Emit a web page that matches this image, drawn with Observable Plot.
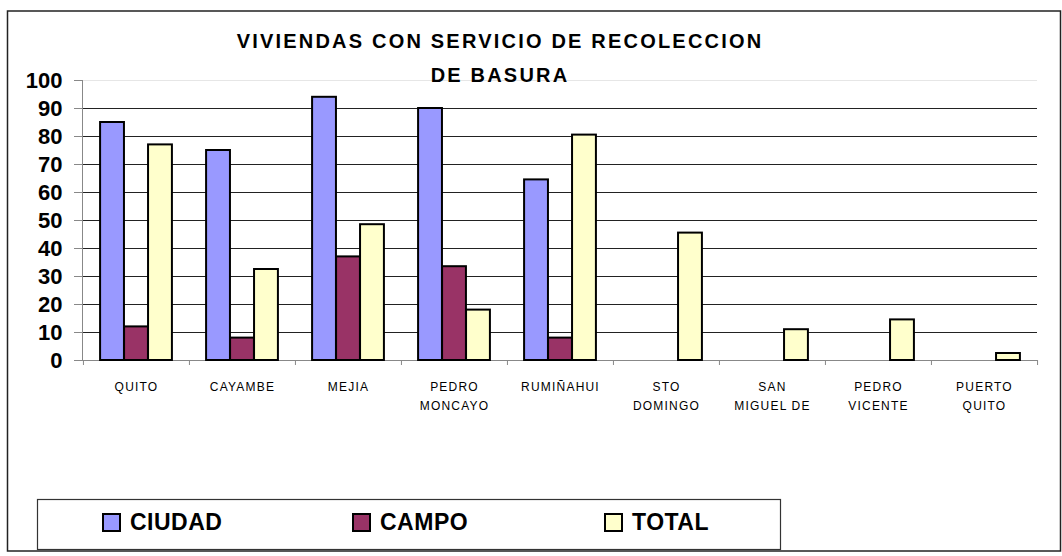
<!DOCTYPE html>
<html><head><meta charset="utf-8">
<script src="https://cdn.jsdelivr.net/npm/d3@7"></script>
<script src="https://cdn.jsdelivr.net/npm/@observablehq/plot@0.6"></script>
<style>
html,body{margin:0;padding:0;background:#fff;}
#chart{width:1062px;height:556px;}
g[aria-label="x-axis tick label"] text{letter-spacing:1.2px;}
</style></head><body><div id="chart"></div>
<script>
const categories = ["QUITO","CAYAMBE","MEJIA","PEDRO MONCAYO","RUMIÑAHUI","STO DOMINGO","SAN MIGUEL DE","PEDRO VICENTE","PUERTO QUITO"];
const tickLabels = ["QUITO","CAYAMBE","MEJIA","PEDRO\nMONCAYO","RUMIÑAHUI","STO\nDOMINGO","SAN\nMIGUEL DE","PEDRO\nVICENTE","PUERTO\nQUITO"];
const ciudad = [85, 75, 94, 90, 64.5, null, null, null, null];
const campo  = [12, 8, 37, 33.5, 8, null, null, null, null];
const total  = [77, 32.5, 48.5, 18, 80.5, 45.5, 11, 14.5, 2.5];
const seriesNames = ["CIUDAD","CAMPO","TOTAL"];
const seriesColors = ["#9999FF","#993366","#FFFFCC"];
const yTicks = [0,10,20,30,40,50,60,70,80,90,100];
const titleLines = ["VIVIENDAS CON SERVICIO DE RECOLECCION","DE BASURA"];

const W = 1062, H = 556, ml = 82, mr = 25, mt = 80, mb = 196;
const bw = (W - ml - mr) / categories.length;
const barW = bw * 0.226;
const off = (bw - 3 * barW) / 2;

const seriesValues = [ciudad, campo, total];
const rows = [];
seriesValues.forEach((vals, s) => vals.forEach((v, i) => {
  if (v != null) rows.push({cat: categories[i], series: seriesNames[s], value: v});
}));

const bars = seriesNames.map((name, s) => Plot.barY(rows.filter(d => d.series === name), {
  x: "cat", y: "value", fill: seriesColors[s], stroke: "#000", strokeWidth: 2,
  insetLeft: off + s * barW, insetRight: bw - off - (s + 1) * barW
}));

const svg = Plot.plot({
  width: W, height: H,
  marginLeft: ml, marginRight: mr, marginTop: mt, marginBottom: mb,
  style: {fontFamily: "'Liberation Sans', Arial, sans-serif", background: "white", color: "#000"},
  x: {domain: categories, padding: 0, label: null},
  y: {domain: [0, 100], label: null},
  marks: [
    Plot.ruleY(yTicks.filter(t => t > 0 && t < 100), {stroke: "#222", strokeWidth: 1}),
    Plot.ruleY([100], {stroke: "#e6e6e6"}),
    Plot.ruleY([0], {stroke: "#888"}),
    Plot.frame({anchor: "left", stroke: "#888"}),
    Plot.ruleX(categories, {x: d => d, y1: 0, y2: 0, insetBottom: -5, dx: -bw / 2, stroke: "#888"}),
    Plot.ruleX([categories[categories.length - 1]], {x: d => d, y1: 0, y2: 0, insetBottom: -5, dx: bw / 2, stroke: "#888"}),
    ...bars,
    Plot.axisY({ticks: yTicks, tickSize: 8, tickPadding: 12, fontSize: 22, fontWeight: "bold", stroke: "#888", fill: "#000", label: null, tickFormat: d => String(d)}),
    Plot.axisX({tickSize: 0, tickPadding: 17, fontSize: 12, lineHeight: 1.58, fill: "#000", label: null,
      tickFormat: d => tickLabels[categories.indexOf(d)]})
  ]
});

const s = d3.select(svg);
// outer border
s.append("rect").attr("x", 7.5).attr("y", 11).attr("width", 1053).attr("height", 540)
  .attr("fill", "none").attr("stroke", "#222").attr("stroke-width", 1.5);
// title
const t = s.append("text").attr("text-anchor", "middle")
  .attr("font-size", 20).attr("font-weight", "bold").style("letter-spacing", "2.2px")
  .attr("font-family", "'Liberation Sans', Arial, sans-serif").attr("fill", "#000");
t.append("tspan").attr("x", 500).attr("y", 48).text(titleLines[0]);
t.append("tspan").attr("x", 500).attr("y", 82).text(titleLines[1]);
// legend
s.append("rect").attr("x", 37.5).attr("y", 499.5).attr("width", 743).attr("height", 50)
  .attr("fill", "#fff").attr("stroke", "#333").attr("stroke-width", 1.2);
const legX = [103, 353, 605];
seriesNames.forEach((name, i) => {
  s.append("rect").attr("x", legX[i]).attr("y", 514).attr("width", 17).attr("height", 17)
    .attr("fill", seriesColors[i]).attr("stroke", "#000").attr("stroke-width", 2);
  s.append("text").attr("x", legX[i] + 27).attr("y", 530).attr("font-size", 23).attr("font-weight", "bold")
    .attr("text-anchor", "start")
    .attr("font-family", "'Liberation Sans', Arial, sans-serif").style("letter-spacing", "0.5px")
    .attr("fill", "#000").text(name);
});
document.getElementById("chart").appendChild(svg);
</script></body></html>
